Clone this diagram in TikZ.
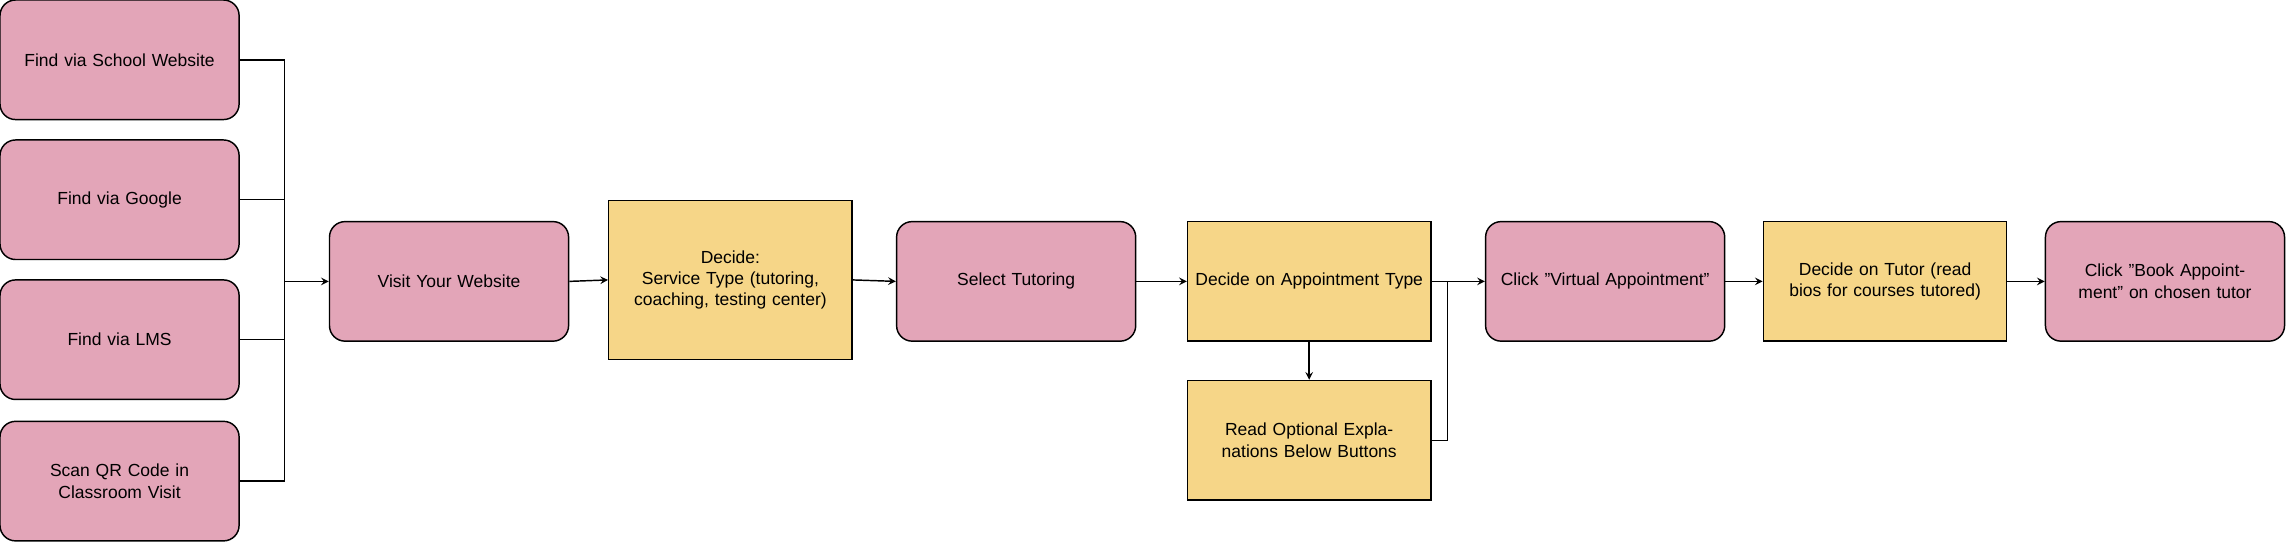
\documentclass[tikz,border=0pt]{standalone}
\usepackage{fontspec}
\setmainfont{Liberation Sans}
\usetikzlibrary{arrows}
\definecolor{pinkish}{RGB}{227,165,184}
\definecolor{sand}{RGB}{246,214,136}
\newlength{\pxu}
\setlength{\pxu}{0.75pt}
\tikzstyle{stage} = [rectangle, rounded corners=8pt, minimum width=164\pxu, minimum height=82\pxu, draw=black, fill=pinkish, text width=150\pxu, align=center, font=\fontsize{9}{11}\selectfont]
\tikzstyle{decide} = [rectangle, minimum width=164\pxu, minimum height=82\pxu, draw=black, fill=sand, text width=158\pxu, align=center, font=\fontsize{9}{11}\selectfont]
\tikzstyle{arrow} = [->,>=stealth]
\begin{document}
\begin{tikzpicture}[x=0.75pt,y=-0.75pt,line width=0.75pt]
\useasboundingbox (0,0) rectangle (1568,372);
\node (school) [stage] at (82,41) {Find via School Website};
\node (google) [stage] at (82,137) {Find via Google};
\node (lms) [stage] at (82,233) {Find via LMS};
\node (qr) [stage] at (82,330) {Scan QR Code in Classroom Visit};
\node (visit) [stage] at (308,193) {Visit Your Website};
\node (service) [decide, minimum height=109\pxu] at (501,192) {Decide:\\Service Type (tutoring, coaching, testing center)};
\node (select) [stage] at (697,193) {Select Tutoring};
\node (appt) [decide] at (898,193) {Decide on Appointment Type};
\node (read) [decide] at (898,302) {Read Optional Explanations Below Buttons};
\node (virtual) [stage] at (1101,193) {Click "Virtual Appointment"};
\node (tutor) [decide] at (1293,193) {Decide on Tutor (read bios for courses tutored)};
\node (book) [stage] at (1485,193) {Click "Book Appointment" on chosen tutor};
\coordinate (bus) at (195,193);
\coordinate (join) at (993,193);
% gather the four entry points
\foreach \src in {school,google,lms,qr}
  \draw (\src.east) -| (bus);
\draw[arrow] (bus) -- (visit.west);
\draw[arrow] (visit.east) -- (service.west);
\draw[arrow] (service.east) -- (select.west);
\draw[arrow] (select.east) -- (appt.west);
\draw[arrow] (appt.south) -- (read.north);
\draw[arrow] (appt.east) -- (virtual.west);
\draw (read.east) -| (join);
\draw[arrow] (virtual.east) -- (tutor.west);
\draw[arrow] (tutor.east) -- (book.west);
\end{tikzpicture}
\end{document}
